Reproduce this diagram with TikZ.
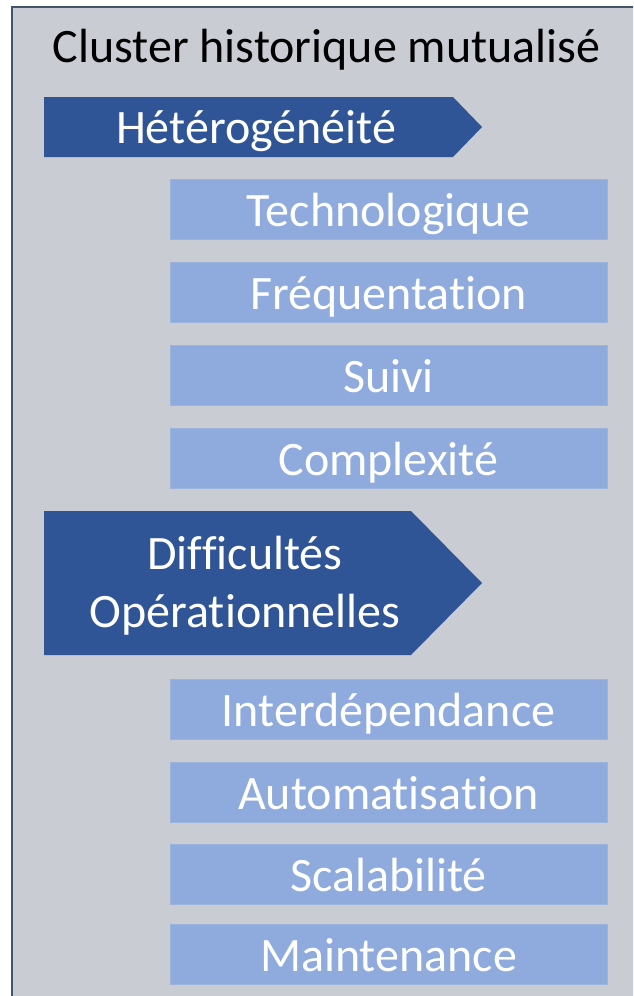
\documentclass[tikz,border=0pt]{standalone}
\usepackage{fontspec}
\setmainfont{Carlito}[Ligatures=NoCommon]
\definecolor{bgc}{HTML}{C9CCD3}
\definecolor{framec}{HTML}{44546A}
\definecolor{darkc}{HTML}{2F5597}
\definecolor{lightc}{HTML}{8FAADC}
\definecolor{lightedge}{HTML}{9CB3DE}
\begin{document}
\begin{tikzpicture}[x=1pt,y=-1pt,
  bigtxt/.style={font=\fontsize{48}{58}\selectfont, inner sep=0pt},
  lightbox/.style={bigtxt, fill=lightc, draw=lightedge, line width=0.8pt, text=white,
    minimum width=437pt, minimum height=60pt, text height=34pt, text depth=0pt},
  darkarrow/.style={fill=darkc},
  darktxt/.style={bigtxt, text=white, align=center}]
\useasboundingbox (0,0) rectangle (633,996);
\fill[white] (0,0) rectangle (633,996);
\begin{scope}
\clip (0,0) rectangle (633,996);
\filldraw[fill=bgc, draw=framec, line width=2pt] (11.5,6.5) rectangle (660,1020);
\end{scope}
\node[bigtxt, anchor=base] (title) at (326.5,62) {Cluster historique mutualisé};
% first arrow
\fill[darkarrow] (44,97) -- (453,97) -- (482,127) -- (453,157) -- (44,157) -- cycle;
\node[darktxt, anchor=base] (het) at (256,143) {Hétérogénéité};
\node[lightbox] (b1) at (388.5,209) {Technologique};
\node[lightbox] (b2) at (388.5,292) {Fréquentation};
\node[lightbox] (b3) at (388.5,375) {Suivi};
\node[lightbox] (b4) at (388.5,458) {Complexité};
% second arrow
\fill[darkarrow] (44,511) -- (411,511) -- (482,583) -- (411,655) -- (44,655) -- cycle;
\node[darktxt, anchor=base] (diff) at (245,627) {Difficultés\\Opérationnelles};
\node[lightbox] (c1) at (388.5,709) {Interdépendance};
\node[lightbox] (c2) at (388.5,792) {Automatisation};
\node[lightbox] (c3) at (388.5,874) {Scalabilité};
\node[lightbox] (c4) at (388.5,954) {Maintenance};
\end{tikzpicture}
\end{document}
